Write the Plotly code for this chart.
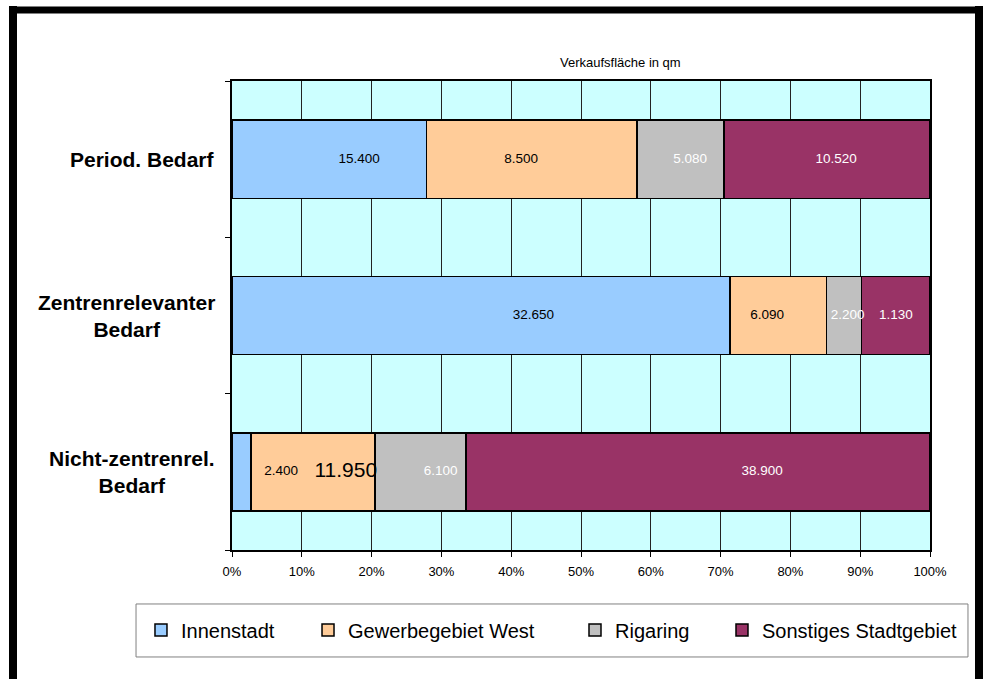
import plotly.graph_objects as go

# ---- data ----
categories = ["Period. Bedarf", "Zentrenrelevanter<br>Bedarf", "Nicht-zentrenrel.<br>Bedarf"]
series = ["Innenstadt", "Gewerbegebiet West", "Rigaring", "Sonstiges Stadtgebiet"]
# bar shares in percent
share_innenstadt = [27.85, 71.35, 2.7]
share_gewerbe = [30.15, 13.85, 17.8]
share_rigaring = [12.5, 5.0, 13.0]
share_sonstiges = [29.5, 9.8, 66.5]
# data labels as printed on the chart (qm)
label_innenstadt = ["15.400", "32.650", "2.400"]
label_gewerbe = ["8.500", "6.090", "11.950"]
label_rigaring = ["5.080", "2.200", "6.100"]
label_sonstiges = ["10.520", "1.130", "38.900"]
x_ticks = [0, 10, 20, 30, 40, 50, 60, 70, 80, 90, 100]
x_tick_text = ["0%", "10%", "20%", "30%", "40%", "50%", "60%", "70%", "80%", "90%", "100%"]

# ---- style ----
colors = ["#99CCFF", "#FFCC99", "#C0C0C0", "#993366"]
label_colors = ["#000000", "#000000", "#FFFFFF", "#FFFFFF"]
# label offsets from segment centre (percent units), as placed in the original
label_shift = [
    [4.3, 7.5, 5.7],
    [-1.5, -1.6, 4.7],
    [1.4, 0.5, 2.9],
    [1.3, 0.0, 9.2],
]
label_size = [
    [13.5, 13.5, 13.5],
    [13.5, 13.5, 21],
    [13.5, 13.5, 13.5],
    [13.5, 13.5, 13.5],
]
legend_names = ["legend", "legend2", "legend3", "legend4"]
legend_x = [-0.1304, 0.1089, 0.4914, 0.7020]
FONT = "Liberation Sans, Arial, sans-serif"

shares = [share_innenstadt, share_gewerbe, share_rigaring, share_sonstiges]
labels = [label_innenstadt, label_gewerbe, label_rigaring, label_sonstiges]
ypos = list(range(len(categories)))

fig = go.Figure()
for name, vals, col, lg in zip(series, shares, colors, legend_names):
    fig.add_trace(go.Bar(
        y=ypos, x=vals, name=name, orientation="h", legend=lg,
        marker=dict(color=col, line=dict(color="#000000", width=1.5)),
        width=0.5, hoverinfo="skip",
    ))

# data labels
tx, ty, tt, tc, ts = [], [], [], [], []
starts = [0.0] * len(categories)
for si, vals in enumerate(shares):
    for ci, v in enumerate(vals):
        tx.append(starts[ci] + v / 2 + label_shift[si][ci])
        ty.append(ypos[ci])
        tt.append(labels[si][ci])
        tc.append(label_colors[si])
        ts.append(label_size[si][ci])
        starts[ci] += v
fig.add_trace(go.Scatter(
    x=tx, y=ty, text=tt, mode="text", showlegend=False, hoverinfo="skip",
    textfont=dict(family=FONT, size=ts, color=tc), cliponaxis=False,
))

# category labels
for ci, cat in enumerate(categories):
    fig.add_annotation(
        x=-0.0215, xref="paper", y=ypos[ci], yref="y", text=cat,
        xanchor="right", yanchor="middle", align="center", showarrow=False,
        font=dict(family=FONT, size=21, color="#000000", weight="bold"),
    )

# chart title
fig.add_annotation(
    x=0.5559, xref="paper", y=1.0384, yref="paper", text="Verkaufsfläche in qm",
    xanchor="center", yanchor="middle", showarrow=False,
    font=dict(family=FONT, size=13, color="#000000"),
)

# outer frame
fig.add_shape(type="line", xref="paper", yref="paper", x0=-0.31375, x1=-0.31375,
              y0=-0.4, y1=1.16, line=dict(color="#000000", width=8))
fig.add_shape(type="line", xref="paper", yref="paper", x0=-0.3195, x1=1.0760,
              y0=1.1514, y1=1.1514, line=dict(color="#000000", width=7))
fig.add_shape(type="line", xref="paper", yref="paper", x0=1.0702, x1=1.0702,
              y0=-0.4, y1=1.16, line=dict(color="#000000", width=8))
# legend box
fig.add_shape(type="rect", xref="paper", yref="paper", x0=-0.1375, x1=1.0544,
              y0=-0.2281, y1=-0.1151, line=dict(color="#808080", width=1),
              fillcolor="rgba(0,0,0,0)")

legend_common = dict(
    orientation="h", xanchor="left", y=-0.1706, yanchor="middle",
    bgcolor="rgba(0,0,0,0)", borderwidth=0,
    font=dict(family=FONT, size=20, color="#000000"),
)

fig.update_layout(
    width=983, height=679,
    margin=dict(l=232, r=53, t=81, b=129),
    paper_bgcolor="#FFFFFF", plot_bgcolor="#CCFFFF",
    barmode="stack", bargap=0.5,
    font=dict(family=FONT, color="#000000"),
    showlegend=True,
    legend=dict(x=legend_x[0], **legend_common),
    legend2=dict(x=legend_x[1], **legend_common),
    legend3=dict(x=legend_x[2], **legend_common),
    legend4=dict(x=legend_x[3], **legend_common),
    xaxis=dict(
        range=[0, 100], tickvals=x_ticks, ticktext=x_tick_text,
        showgrid=True, gridcolor="#222222", gridwidth=1,
        ticks="outside", ticklen=5, tickcolor="#000000", tickwidth=1,
        showline=True, linecolor="#000000", linewidth=2, mirror=True,
        tickfont=dict(family=FONT, size=13, color="#000000"),
        ticklabelstandoff=3, zeroline=False, fixedrange=True,
    ),
    yaxis=dict(
        range=[len(categories) - 0.5, -0.5],
        tickvals=[-0.5, 0.5, 1.5, 2.5], showticklabels=False,
        ticks="outside", ticklen=5, tickcolor="#000000", tickwidth=1,
        showgrid=False, zeroline=False,
        showline=True, linecolor="#000000", linewidth=2, mirror=True,
        fixedrange=True,
    ),
)

fig.write_html(
    "out.html",
    config={"displayModeBar": False},
    post_script="document.body.style.margin='0';document.body.style.overflow='hidden';",
)
